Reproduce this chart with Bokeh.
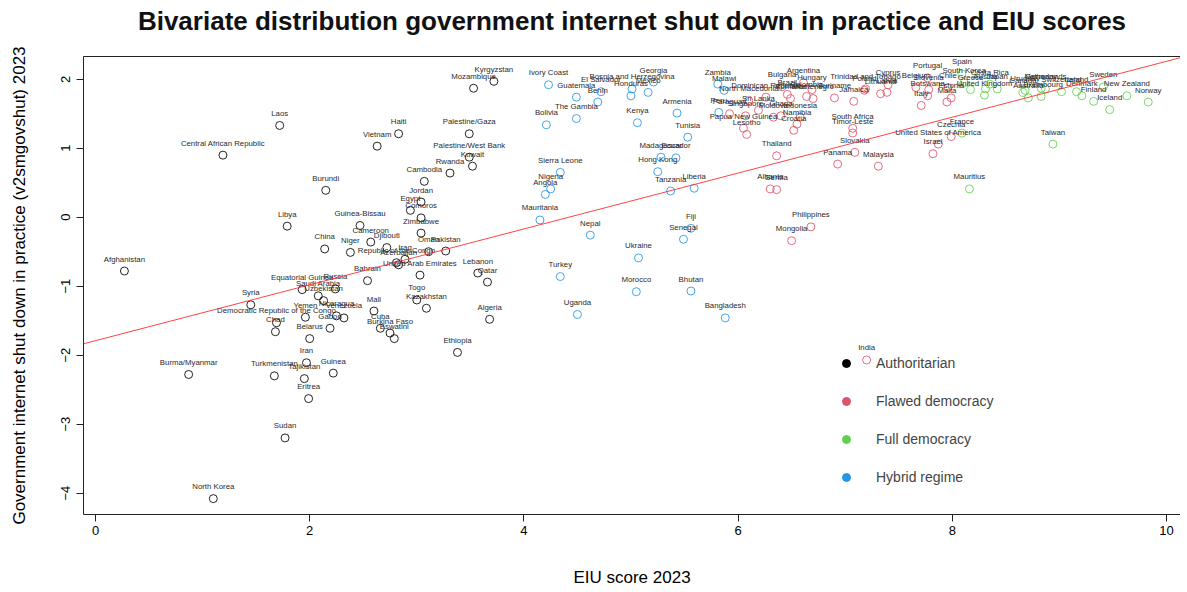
from bokeh.plotting import figure
from bokeh.models import (Range1d, Slope, Legend, LegendItem, LinearAxis,
                          FixedTicker, ColumnDataSource)
from bokeh.core.properties import value
from bokeh.embed import file_html
from bokeh.resources import INLINE

FONT = "Liberation Sans"

# ---------------- data ----------------
auth_names = ["Afghanistan", "Central African Republic", "Laos", "Vietnam", "Burundi", "Libya",
              "Guinea-Bissau", "China", "Niger", "Cameroon", "Djibouti", "Republic of the Congo",
              "Azerbaijan", "Iraq", "United Arab Emirates", "Oman", "Pakistan", "Zimbabwe",
              "Comoros", "Egypt", "Jordan", "Cambodia", "Rwanda", "Kuwait", "Palestine/West Bank",
              "Palestine/Gaza", "Haiti", "Mozambique", "Kyrgyzstan", "Bahrain", "Lebanon", "Qatar",
              "Togo", "Kazakhstan", "Mali", "Cuba", "Burkina Faso", "Eswatini", "Ethiopia",
              "Algeria", "Syria", "Equatorial Guinea", "Russia", "Saudi Arabia", "Uzbekistan",
              "Yemen", "Nicaragua", "Venezuela", "Gabon", "Belarus",
              "Democratic Republic of the Congo", "Chad", "Burma/Myanmar", "Turkmenistan", "Iran",
              "Tajikistan", "Guinea", "Eritrea", "Sudan", "North Korea"]
auth_eiu = [0.27, 1.19, 1.72, 2.63, 2.15, 1.79,
            2.47, 2.14, 2.38, 2.57, 2.72, 2.81,
            2.83, 2.89, 3.03, 3.11, 3.27, 3.04,
            3.04, 2.94, 3.04, 3.07, 3.31, 3.52, 3.49,
            3.49, 2.83, 3.53, 3.72, 2.54, 3.57, 3.66,
            3.00, 3.09, 2.60, 2.66, 2.75, 2.79, 3.38,
            3.68, 1.45, 1.93, 2.24, 2.08, 2.13,
            1.96, 2.25, 2.32, 2.19, 2.00,
            1.69, 1.68, 0.87, 1.67, 1.97,
            1.95, 2.22, 1.99, 1.77, 1.10]
auth_shut = [-0.78, 0.90, 1.33, 1.03, 0.39, -0.13,
             -0.12, -0.46, -0.51, -0.36, -0.44, -0.66,
             -0.69, -0.61, -0.84, -0.50, -0.49, -0.23,
             -0.01, 0.10, 0.22, 0.52, 0.64, 0.74, 0.87,
             1.21, 1.21, 1.87, 1.97, -0.92, -0.81, -0.94,
             -1.20, -1.32, -1.36, -1.61, -1.68, -1.76, -1.96,
             -1.48, -1.27, -1.05, -1.04, -1.14, -1.21,
             -1.45, -1.43, -1.46, -1.61, -1.76,
             -1.53, -1.66, -2.28, -2.30, -2.11,
             -2.34, -2.26, -2.63, -3.20, -4.08]

flaw_names = ["Bulgaria", "Argentina", "Hungary", "Trinidad and Tobago", "Poland",
              "Dominican Republic", "Suriname", "Jamaica", "Brazil", "Montenegro", "Colombia",
              "Romania", "North Macedonia", "Paraguay", "Sri Lanka", "Singapore", "Indonesia",
              "Ghana", "Namibia", "Croatia", "Moldova", "Lesotho", "Papua New Guinea",
              "Albania", "Serbia", "Thailand", "Mongolia", "Philippines", "South Africa",
              "Timor-Leste", "Slovakia", "Panama", "Malaysia", "India", "Cyprus", "Latvia",
              "Lithuania", "United States of America", "Czechia", "Israel", "Italy", "Belgium",
              "Botswana", "Slovenia", "Portugal", "Chile", "Estonia", "Malta"]
flaw_eiu = [6.41, 6.61, 6.69, 7.19, 7.18,
            6.26, 6.90, 7.08, 6.46, 6.70, 6.64,
            6.49, 6.10, 5.92, 6.19, 6.07, 6.58,
            6.40, 6.55, 6.52, 6.33, 6.08, 6.05,
            6.30, 6.36, 6.36, 6.50, 6.68, 7.07,
            7.07, 7.09, 6.93, 7.31, 7.20, 7.40, 7.39,
            7.33, 7.87, 7.99, 7.82, 7.71, 7.66,
            7.77, 7.78, 7.77, 7.96, 7.99, 7.95]
flaw_shut = [1.89, 1.95, 1.85, 1.86, 1.84,
             1.74, 1.73, 1.68, 1.78, 1.72, 1.75,
             1.72, 1.69, 1.50, 1.55, 1.47, 1.45,
             1.47, 1.35, 1.26, 1.45, 1.20, 1.29,
             0.41, 0.40, 0.89, -0.34, -0.14, 1.29,
             1.22, 0.94, 0.77, 0.74, -2.07, 1.92, 1.81,
             1.79, 1.06, 1.17, 0.92, 1.62, 1.88,
             1.76, 1.85, 2.02, 1.88, 1.73, 1.67]

full_names = ["Mauritius", "Taiwan", "Norway", "New Zealand", "Iceland", "Finland", "Sweden",
              "Denmark", "Ireland", "Switzerland", "Netherlands", "Luxembourg", "Germany",
              "Canada", "Australia", "Uruguay", "Japan", "Costa Rica", "United Kingdom",
              "Austria", "Greece", "South Korea", "Spain", "France"]
full_eiu = [8.16, 8.94, 9.83, 9.63, 9.47, 9.32, 9.41,
            9.21, 9.16, 9.02, 8.87, 8.83, 8.83,
            8.66, 8.71, 8.68, 8.42, 8.35, 8.30,
            8.31, 8.17, 8.11, 8.09, 8.09]
full_shut = [0.41, 1.06, 1.67, 1.76, 1.56, 1.68, 1.89,
             1.76, 1.82, 1.82, 1.86, 1.75, 1.87,
             1.81, 1.73, 1.84, 1.86, 1.93, 1.77,
             1.86, 1.85, 1.95, 2.08, 1.22]

hyb_names = ["Ivory Coast", "Guatemala", "El Salvador", "Benin", "Bosnia and Herzegovina",
             "Honduras", "Georgia", "Mexico", "The Gambia", "Bolivia", "Kenya", "Armenia",
             "Tunisia", "Sierra Leone", "Nigeria", "Angola", "Mauritania", "Nepal", "Madagascar",
             "Ecuador", "Hong Kong", "Tanzania", "Liberia", "Fiji", "Senegal", "Zambia", "Malawi",
             "Peru", "Turkey", "Uganda", "Ukraine", "Morocco", "Bhutan", "Bangladesh"]
hyb_eiu = [4.23, 4.49, 4.72, 4.69, 5.01,
           5.00, 5.21, 5.16, 4.49, 4.21, 5.06, 5.43,
           5.53, 4.34, 4.25, 4.20, 4.15, 4.62, 5.28,
           5.42, 5.25, 5.37, 5.59, 5.56, 5.49, 5.81, 5.87,
           5.82, 4.34, 4.50, 5.07, 5.05, 5.56, 5.88]
hyb_shut = [1.92, 1.74, 1.82, 1.67, 1.86,
            1.76, 1.96, 1.81, 1.43, 1.34, 1.37, 1.51,
            1.16, 0.65, 0.41, 0.33, -0.04, -0.26, 0.87,
            0.86, 0.66, 0.38, 0.42, -0.16, -0.32, 1.93, 1.84,
            1.52, -0.86, -1.41, -0.59, -1.08, -1.07, -1.46]

regimes = ["Authoritarian", "Flawed democracy", "Full democracy", "Hybrid regime"]
regime_colors = ["#000000", "#DF536B", "#61D04F", "#2297E6"]

# fitted regression line
fit_intercept = -1.79
fit_slope = 0.405

x_ticks = [0, 2, 4, 6, 8, 10]
y_ticks = [-4, -3, -2, -1, 0, 1, 2]

TITLE = "Bivariate distribution government internet shut down in practice and EIU scores"

# ---------------- figure ----------------
p = figure(width=1180, height=589, output_backend="svg", toolbar_location=None,
           x_range=Range1d(-0.112, 10.131), y_range=Range1d(-4.31, 2.33),
           x_axis_location=None, y_axis_location=None,
           min_border_left=83, min_border_right=0, min_border_top=56, min_border_bottom=74)
p.outline_line_color = None
p.background_fill_color = "white"
p.border_fill_color = "white"
p.grid.visible = False

axis_kw = dict(axis_line_color="#222222", major_tick_line_color="#222222",
               major_tick_in=0, major_tick_out=7, minor_tick_line_color=None,
               major_label_text_font=FONT, major_label_text_font_size="13px",
               major_label_text_color="black", axis_label_text_font=FONT,
               axis_label_text_font_size="17px", axis_label_text_font_style="normal",
               axis_label_text_color="black")

xaxis = LinearAxis(ticker=FixedTicker(ticks=x_ticks), axis_label="EIU score 2023",
                   axis_label_standoff=30, major_label_standoff=4, **axis_kw)
p.add_layout(xaxis, "below")

yaxis = LinearAxis(ticker=FixedTicker(ticks=y_ticks),
                   axis_label="Government internet shut down in practice (v2smgovshut) 2023",
                   axis_label_standoff=30, major_label_standoff=6,
                   major_label_orientation="vertical", **axis_kw)
p.add_layout(yaxis, "left")

# top frame line, carrying the chart title as its label
top = LinearAxis(ticker=FixedTicker(ticks=[]), axis_line_color="#222222",
                 major_tick_line_color=None, minor_tick_line_color=None,
                 major_tick_out=0, major_label_standoff=0,
                 major_label_text_color=None, axis_label=TITLE,
                 axis_label_text_font=FONT, axis_label_text_font_size="26px",
                 axis_label_text_font_style="bold", axis_label_text_color="#111111",
                 axis_label_standoff=21)
p.add_layout(top, "above")

groups = [
    (auth_names, auth_eiu, auth_shut),
    (flaw_names, flaw_eiu, flaw_shut),
    (full_names, full_eiu, full_shut),
    (hyb_names, hyb_eiu, hyb_shut),
]

sources = []
for (names, xs, ys), col in zip(groups, regime_colors):
    src = ColumnDataSource(dict(x=xs, y=ys, name=names))
    sources.append(src)
    p.scatter(x="x", y="y", source=src, marker="circle", size=8, fill_color=None,
              line_color=col, line_width=1, line_alpha=0.85)

for src in sources:
    p.text(x="x", y="y", text="name", source=src, text_font=value(FONT),
           text_font_size="7.8px", text_align="center", text_baseline="middle",
           y_offset=-12, text_color="#2a2a2a")

p.add_layout(Slope(gradient=fit_slope, y_intercept=fit_intercept,
                   line_color="#FF3030", line_width=1, line_alpha=0.9))

# legend with filled dots: hidden renderers, drawn only in the legend
items = []
for name, col, src in zip(regimes, regime_colors, sources):
    r = p.scatter(x="x", y="y", source=src, marker="circle", size=8,
                  fill_color=col, line_color=col, visible=False)
    items.append(LegendItem(label=name, renderers=[r]))
legend = Legend(items=items, location=(753, 27), glyph_width=20, glyph_height=20,
                label_height=20, spacing=18, label_standoff=20, padding=0, margin=0,
                border_line_color=None, background_fill_alpha=0,
                inactive_fill_alpha=0, inactive_fill_color=None,
                label_text_font=FONT, label_text_font_size="14px")
p.add_layout(legend, "center")

open("out.html", "w").write(file_html(p, INLINE))
